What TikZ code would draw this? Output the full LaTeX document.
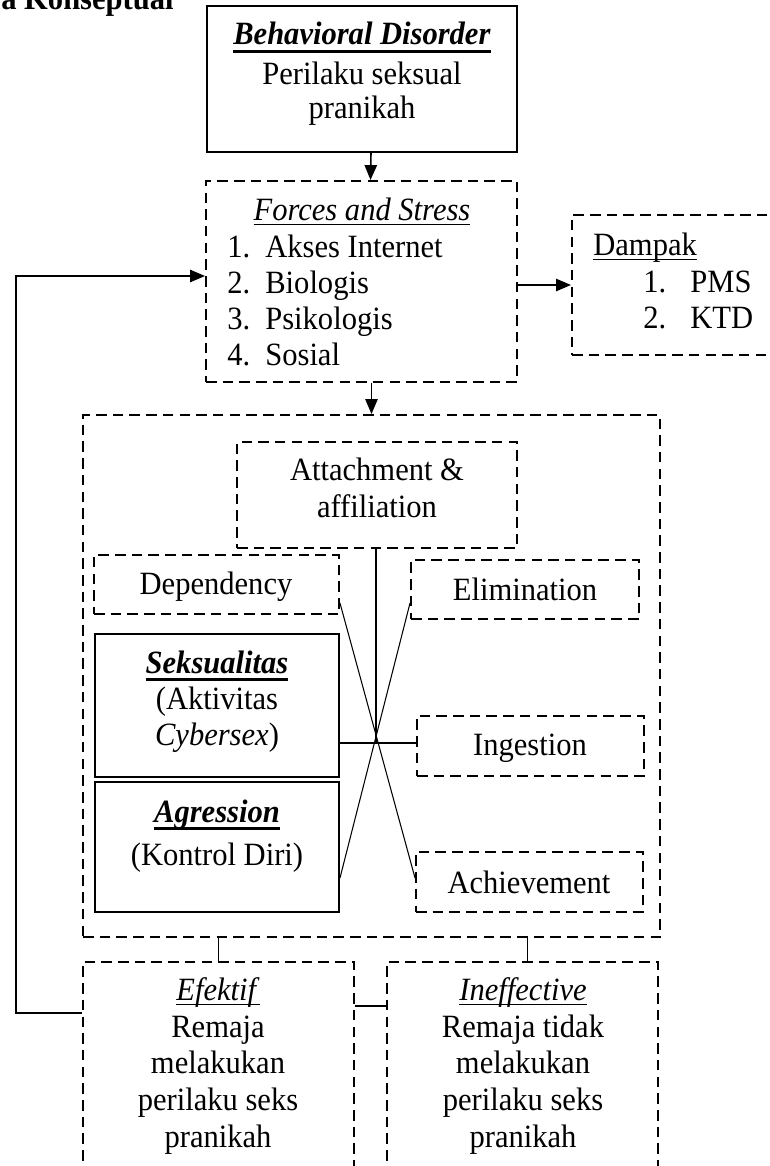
\documentclass[tikz,border=0pt]{standalone}
\usepackage{fontspec}
\setmainfont[FakeStretch=0.94]{Liberation Serif}
\usetikzlibrary{arrows.meta,fit,calc}

\newcommand{\ulthick}[1]{\setbox0\hbox{#1}\rlap{\rule[-4.4pt]{\wd0}{1.6pt}}\box0}
\newcommand{\ulthin}[1]{\setbox0\hbox{#1}\rlap{\rule[-3pt]{\wd0}{1pt}}\box0}

\tikzset{
    box/.style={draw, line width=1.1pt, inner sep=0pt},
    dbox/.style={box, dash pattern=on 6pt off 3.5pt},
    lbl/.style={font=\fontsize{18.5}{21}\selectfont, inner sep=0pt, anchor=base},
    arr/.style={line width=0.9pt, -{Triangle[length=8.5pt,width=7pt]}},
    link/.style={line width=0.8pt},
}

\begin{document}
\begin{tikzpicture}[x=0.02cm, y=-0.02cm]
    \useasboundingbox (0,0) rectangle (770,1166);
    %% Boxes
    \node[box, fit={(207,6) (517,152)}] (bd) {};
    \node[dbox, fit={(206,181) (517,382)}] (fs) {};
    \node[dbox, fit={(572,215) (800,355)}] (dp) {};
    \node[dbox, fit={(83,415) (660,937)}] (big) {};
    \node[dbox, fit={(237,442) (517,548)}] (att) {};
    \node[dbox, fit={(94,555) (339,614)}] (dep) {};
    \node[dbox, fit={(411,560) (639,619)}] (el) {};
    \node[box, fit={(95,634) (339,777)}] (sx) {};
    \node[box, fit={(95,782) (339,912)}] (ag) {};
    \node[dbox, fit={(417,716) (644,776)}] (ing) {};
    \node[dbox, fit={(416,852) (643,912)}] (ach) {};
    \node[dbox, fit={(83,962) (354,1200)}] (ef) {};
    \node[dbox, fit={(387,962) (658,1200)}] (ine) {};

    %% Title
    \node[lbl, anchor=base east, font=\bfseries\fontsize{18.5}{21}\selectfont] (title) at (174,10) {a Konseptual};

    %% Behavioral disorder
    \node[lbl] (bd1) at (362,45) {\ulthick{\textbf{\textit{Behavioral Disorder}}}};
    \node[lbl] (bd2) at (362,85) {Perilaku seksual};
    \node[lbl] (bd3) at (362,118) {pranikah};

    %% Forces and stress
    \node[lbl] (fs0) at (362,220) {\ulthin{\textit{Forces and Stress}}};
    \foreach \t [count=\i] in {Akses Internet, Biologis, Psikologis, Sosial}
    {
    \node[lbl, anchor=base west] (fn\i) at (227,221+36*\i) {\i.};
    \node[lbl, anchor=base west] (ft\i) at (265,221+36*\i) {\t};
    }

    %% Dampak
    \node[lbl, anchor=base west] (dp0) at (593,255) {\ulthin{Dampak}};
    \foreach \t [count=\i] in {PMS, KTD}
    {
    \node[lbl, anchor=base west] (dn\i) at (643,256+36*\i) {\i.};
    \node[lbl, anchor=base west] (dt\i) at (690,256+36*\i) {\t};
    }

    %% Inner boxes
    \node[lbl] (att1) at (377,480) {Attachment \&};
    \node[lbl] (att2) at (377,517) {affiliation};
    \node[lbl] (dep1) at (216,594) {Dependency};
    \node[lbl] (el1) at (525,600) {Elimination};
    \node[lbl] (sx1) at (217,673) {\ulthick{\textbf{\textit{Seksualitas}}}};
    \node[lbl] (sx2) at (217,709) {(Aktivitas};
    \node[lbl] (sx3) at (217,745) {\textit{Cybersex})};
    \node[lbl] (ag1) at (217,822) {\ulthick{\textbf{\textit{Agression}}}};
    \node[lbl] (ag2) at (217,865) {(Kontrol Diri)};
    \node[lbl] (ing1) at (530,755) {Ingestion};
    \node[lbl] (ach1) at (529,893) {Achievement};

    %% Outcomes
    \foreach \b/\x/\h/\l in {ef/218/Efektif/Remaja, ine/523/Ineffective/Remaja tidak}
    {
    \node[lbl] (\b0) at (\x,1000) {\ulthin{\textit{\h}}};
    \node[lbl] (\b1) at (\x,1037) {\l};
    \node[lbl] (\b2) at (\x,1073) {melakukan};
    \node[lbl] (\b3) at (\x,1110) {perilaku seks};
    \node[lbl] (\b4) at (\x,1147) {pranikah};
    }

    %% Connectors
    \draw[arr]
    ([xshift=0.18cm]bd.south) -- ([xshift=0.18cm]fs.north)
    ;
    \draw[arr]
    (fs.east |- dp.west) -- (dp.west)
    ;
    \draw[arr]
    (fs.south -| big.north) -- (big.north)
    ;
    \coordinate (fb) at (16,1013);
    \draw[arr]
    (fb -| ef.west) -- (fb) |- ([yshift=0.11cm]fs.west)
    ;
    \coordinate (hub) at (376,743);
    \draw[link]
    (att.south -| hub) -- (hub)
    (hub -| sx.east) -- (hub -| ing.west)
    ;
    \draw[line width=0.6pt]
    ([yshift=-0.37cm]dep.east) -- ([yshift=0.08cm]ach.west)
    ([yshift=-0.27cm]el.west) -- ([yshift=-0.62cm]ag.east)
    ;
    \draw[link]
    (big.south -| ef.north) -- (ef.north)
    ($(big.south -| ine.north)+(5,0)$) -- ($(ine.north)+(5,0)$)
    ;
    \coordinate (pair) at (370,1006);
    \draw[link]
    (pair -| ef.east) -- (pair -| ine.west)
    ;
\end{tikzpicture}
\end{document}
